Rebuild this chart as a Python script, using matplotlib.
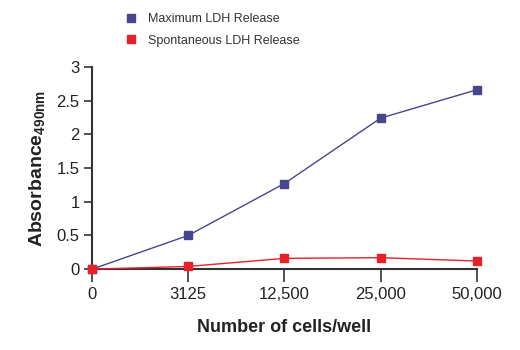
import matplotlib
matplotlib.use('Agg')
import matplotlib.pyplot as plt

# datos
celulas = ['0', '3125', '12,500', '25,000', '50,000']
maximo = [0.0, 0.50, 1.27, 2.24, 2.66]
espontaneo = [0.0, 0.04, 0.16, 0.17, 0.12]

plt.rcParams['font.family'] = ['Liberation Sans', 'DejaVu Sans']
plt.rcParams['mathtext.default'] = 'regular'

azul = '#47468c'
rojo = '#e8202a'
gris = '#333333'

fig = plt.figure(figsize=(5.2, 3.5), dpi=100)
ax = fig.add_axes([0.177, 0.231, 0.740, 0.578])

pos = range(len(celulas))
ax.plot(pos, maximo, color=azul, lw=1, marker='s', ms=5.5, clip_on=False,
        zorder=3, label='Maximum LDH Release')
ax.plot(pos, espontaneo, color=rojo, lw=1, marker='s', ms=5.5, clip_on=False,
        zorder=4, label='Spontaneous LDH Release')

ax.set_xlim(0, 4)
ax.set_ylim(0, 3)
ax.set_xticks(list(pos))
ax.set_xticklabels(celulas)
ax.set_yticks([0, 0.5, 1, 1.5, 2, 2.5, 3])
ax.set_yticklabels(['0', '0.5', '1', '1.5', '2', '2.5', '3'])

for s in ['top', 'right']:
    ax.spines[s].set_visible(False)
for s in ['left', 'bottom']:
    ax.spines[s].set_color(gris)
    ax.spines[s].set_linewidth(1.5)
ax.tick_params(axis='y', length=6, width=1.2, color=gris, labelsize=12, pad=3,
               labelcolor='#222222')
ax.tick_params(axis='x', length=9, width=1.2, color=gris, labelsize=12, pad=4,
               labelcolor='#222222')

ax.set_xlabel('Number of cells/well', fontsize=13, fontweight='bold', labelpad=12,
              color='#222222')
ax.set_ylabel(r'Absorbance$_{490nm}$', fontsize=14, fontweight='bold', labelpad=7,
              color='#222222')

ax.legend(loc='upper left', bbox_to_anchor=(0.06, 1.32), frameon=False,
          fontsize=9, handlelength=0.8, handletextpad=0.9, labelspacing=0.75,
          markerscale=1.0, labelcolor='#333333')
# solo el marcador en la leyenda
for h in ax.get_legend().get_lines():
    h.set_linestyle('none')

fig.savefig('out.png', dpi=100)
